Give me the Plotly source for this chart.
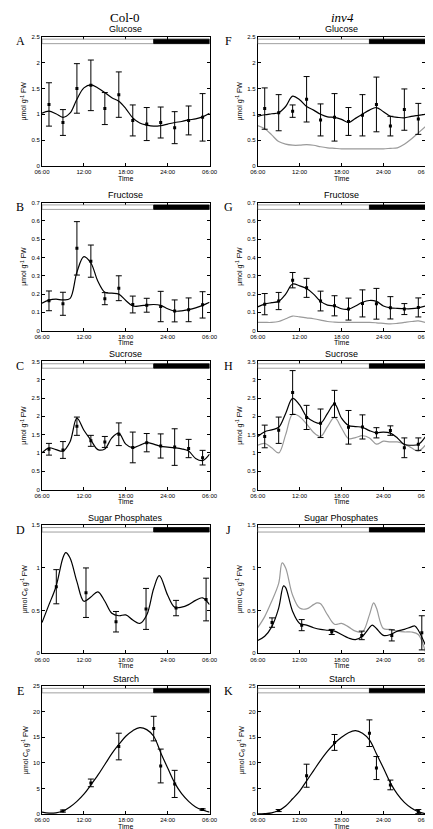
import plotly.graph_objects as go

# ---------------- data ----------------
hours = list(range(6, 31))
t_sugar = [7, 9, 11, 13, 15, 17, 19, 21, 23, 25, 27, 29]
t_phos = [8.05, 12.3, 16.6, 20.9, 25.2, 29.5]
t_starch = [9, 13, 17, 22, 23, 25, 29]

x_tickvals = [6, 12, 18, 24, 30]
x_ticktext = ["06:00", "12:00", "18:00", "24:00", "06:00"]

# Col-0
glc_col = [1.19, 0.84, 1.50, 1.56, 1.11, 1.38, 0.88, 0.81, 0.84, 0.74, 0.88, 0.94]
glc_col_err = [0.42, 0.25, 0.48, 0.49, 0.31, 0.44, 0.30, 0.32, 0.30, 0.31, 0.28, 0.46]
glc_col_fit = [1.02, 1.06, 1.01, 0.94, 1.02, 1.29, 1.51, 1.57, 1.51, 1.42, 1.32, 1.25, 1.11,
               0.93, 0.83, 0.79, 0.77, 0.78, 0.81, 0.84, 0.86, 0.89, 0.91, 0.95, 1.02]

fru_col = [0.163, 0.147, 0.45, 0.38, 0.175, 0.232, 0.143, 0.139, 0.132, 0.108, 0.114, 0.141]
fru_col_err = [0.054, 0.063, 0.146, 0.088, 0.033, 0.068, 0.046, 0.038, 0.083, 0.060, 0.065, 0.072]
fru_col_fit = [0.150, 0.167, 0.172, 0.168, 0.175, 0.32, 0.405, 0.37, 0.27, 0.21, 0.205, 0.200, 0.165,
               0.135, 0.135, 0.140, 0.143, 0.138, 0.120, 0.107, 0.108, 0.115, 0.125, 0.138, 0.155]

suc_col = [1.10, 1.08, 1.73, 1.33, 1.30, 1.51, 1.15, 1.28, 1.19, 1.16, 1.12, 0.87]
suc_col_err = [0.16, 0.23, 0.25, 0.15, 0.15, 0.31, 0.42, 0.25, 0.33, 0.50, 0.25, 0.20]
suc_col_fit = [1.00, 1.14, 1.09, 1.05, 1.30, 1.95, 1.62, 1.35, 1.09, 1.11, 1.41, 1.54, 1.24,
               1.14, 1.21, 1.28, 1.24, 1.18, 1.16, 1.14, 1.11, 1.05, 0.85, 0.79, 0.97]

sp_col = [0.78, 0.71, 0.37, 0.52, 0.53, 0.63]
sp_col_err = [0.20, 0.29, 0.12, 0.24, 0.09, 0.25]
sp_col_fit_t = [6, 7, 8, 9, 9.4, 10, 11, 12, 13, 14, 15, 16, 17, 18, 19, 20, 21, 22, 22.8,
                24, 25, 26, 27, 28, 29, 30]
sp_col_fit = [0.36, 0.57, 0.78, 1.12, 1.18, 1.12, 0.84, 0.61, 0.66, 0.72, 0.61, 0.47, 0.44,
              0.45, 0.39, 0.35, 0.45, 0.76, 0.91, 0.68, 0.54, 0.54, 0.57, 0.62, 0.65, 0.57]

st_col = [0.6, 6.1, 13.2, 16.7, 9.4, 5.9, 0.9]
st_col_err = [0.2, 0.75, 2.6, 2.4, 3.3, 2.65, 0.15]
st_col_fit = [0.4, 0.2, 0.26, 0.6, 1.4, 2.5, 3.9, 5.7, 7.6, 9.7, 11.8, 13.6, 15.2,
              16.3, 16.9, 16.5, 15.2, 12.0, 9.0, 6.1, 4.0, 2.5, 1.4, 0.8, 0.4]

# inv4
glc_inv = [1.11, 1.03, 1.06, 1.29, 0.89, 0.94, 0.86, 0.98, 1.19, 0.77, 1.09, 0.91]
glc_inv_err = [0.40, 0.35, 0.12, 0.44, 0.31, 0.46, 0.27, 0.40, 0.53, 0.19, 0.40, 0.30]
glc_inv_fit = [0.96, 0.99, 1.01, 1.03, 1.15, 1.35, 1.28, 1.15, 1.08, 1.00, 0.95, 0.94, 0.90,
               0.84, 0.92, 1.00, 1.08, 1.13, 1.05, 0.96, 0.94, 0.93, 0.96, 0.98, 1.00]
glc_ref_fit = [0.78, 0.72, 0.60, 0.47, 0.42, 0.40, 0.40, 0.41, 0.40, 0.37, 0.35, 0.34, 0.33,
               0.33, 0.33, 0.33, 0.33, 0.33, 0.33, 0.34, 0.35, 0.42, 0.52, 0.64, 0.76]

fru_inv = [0.145, 0.162, 0.276, 0.234, 0.162, 0.136, 0.118, 0.149, 0.147, 0.125, 0.118, 0.127]
fru_inv_err = [0.058, 0.047, 0.042, 0.052, 0.054, 0.055, 0.060, 0.074, 0.084, 0.061, 0.030, 0.052]
fru_inv_fit = [0.130, 0.145, 0.153, 0.160, 0.200, 0.255, 0.245, 0.230, 0.200, 0.160, 0.140, 0.135, 0.120,
               0.118, 0.135, 0.155, 0.165, 0.160, 0.135, 0.125, 0.122, 0.120, 0.120, 0.125, 0.135]
fru_ref_fit = [0.045, 0.045, 0.045, 0.050, 0.065, 0.080, 0.075, 0.070, 0.065, 0.058, 0.050, 0.047, 0.045,
               0.045, 0.045, 0.045, 0.045, 0.043, 0.040, 0.037, 0.040, 0.045, 0.050, 0.053, 0.045]

suc_inv = [1.45, 1.62, 2.65, 1.97, 1.81, 2.34, 1.70, 1.71, 1.55, 1.61, 1.14, 1.24]
suc_inv_err = [0.31, 0.36, 0.60, 0.33, 0.39, 0.37, 0.46, 0.33, 0.14, 0.13, 0.27, 0.17]
suc_inv_fit = [1.45, 1.58, 1.63, 1.70, 2.08, 2.49, 2.31, 1.99, 1.86, 1.81, 2.08, 2.34, 1.95,
               1.75, 1.72, 1.70, 1.61, 1.55, 1.57, 1.54, 1.41, 1.23, 1.21, 1.23, 1.44]
suc_ref_fit = [1.21, 1.26, 1.14, 1.00, 1.50, 2.06, 1.99, 1.79, 1.56, 1.45, 1.72, 1.97, 1.68,
               1.39, 1.42, 1.47, 1.41, 1.24, 1.32, 1.30, 1.30, 1.24, 1.14, 1.05, 1.21]

sp_inv = [0.36, 0.33, 0.25, 0.21, 0.21, 0.24]
sp_inv_err = [0.055, 0.065, 0.03, 0.05, 0.065, 0.20]
sp_inv_fit_t = [6, 7, 8, 9, 9.7, 10, 11, 12, 13, 14, 15, 16, 17, 18, 19, 20, 21, 22, 22.4,
                23, 24, 25, 26, 27, 28, 28.5, 29, 30]
sp_inv_fit = [0.15, 0.20, 0.31, 0.53, 0.79, 0.77, 0.49, 0.35, 0.33, 0.30, 0.28, 0.27, 0.26,
              0.22, 0.18, 0.16, 0.20, 0.30, 0.33, 0.29, 0.21, 0.22, 0.26, 0.28, 0.31, 0.32, 0.27, 0.10]
sp_ref_fit_t = [6, 7, 8, 9, 9.5, 10, 11, 12, 13, 14, 14.5, 15, 16, 17, 18, 19, 20, 21, 22,
                22.6, 23, 24, 25, 26, 27, 28, 29, 30]
sp_ref_fit = [0.30, 0.43, 0.61, 0.82, 1.06, 1.00, 0.68, 0.53, 0.52, 0.57, 0.59, 0.58, 0.45,
              0.34, 0.35, 0.31, 0.26, 0.25, 0.45, 0.59, 0.53, 0.29, 0.28, 0.26, 0.25, 0.25, 0.22, 0.02]

st_inv = [0.7, 7.5, 14.0, 15.8, 9.0, 5.7, 0.5]
st_inv_err = [0.2, 2.25, 1.55, 2.6, 2.25, 0.95, 0.4]
st_inv_fit = [0.05, 0.1, 0.25, 0.7, 1.6, 3.0, 4.5, 6.5, 8.5, 10.5, 12.3, 13.8, 15.0,
              15.9, 16.3, 15.8, 14.5, 11.8, 9.0, 6.1, 3.9, 2.3, 1.2, 0.5, 0.1]

titles = ["Glucose", "Fructose", "Sucrose", "Sugar Phosphates", "Starch"]
letters_left = ["A", "B", "C", "D", "E"]
letters_right = ["F", "G", "H", "J", "K"]
y_max = [2.5, 0.7, 3.5, 1.5, 25]
y_dtick = [0.5, 0.1, 0.5, 0.5, 5]
y_titles = ["µmol g<sup>-1</sup> FW", "µmol g<sup>-1</sup> FW", "µmol g<sup>-1</sup> FW",
            "µmol C<sub>6</sub> g<sup>-1</sup> FW", "µmol C<sub>6</sub> g<sup>-1</sup> FW"]
light_end = 22

# ---------------- layout geometry ----------------
W, H = 433, 829
rows_px = [(26, 156), (193, 322), (353, 482), (518, 647), (680, 809)]
cols_px = [(27, 201), (251, 425)]

panels = [
    (0, 0, t_sugar, glc_col, glc_col_err, [(hours, glc_col_fit, "black")]),
    (0, 1, t_sugar, glc_inv, glc_inv_err, [(hours, glc_ref_fit, "#9a9a9a"), (hours, glc_inv_fit, "black")]),
    (1, 0, t_sugar, fru_col, fru_col_err, [(hours, fru_col_fit, "black")]),
    (1, 1, t_sugar, fru_inv, fru_inv_err, [(hours, fru_ref_fit, "#9a9a9a"), (hours, fru_inv_fit, "black")]),
    (2, 0, t_sugar, suc_col, suc_col_err, [(hours, suc_col_fit, "black")]),
    (2, 1, t_sugar, suc_inv, suc_inv_err, [(hours, suc_ref_fit, "#9a9a9a"), (hours, suc_inv_fit, "black")]),
    (3, 0, t_phos, sp_col, sp_col_err, [(sp_col_fit_t, sp_col_fit, "black")]),
    (3, 1, t_phos, sp_inv, sp_inv_err, [(sp_ref_fit_t, sp_ref_fit, "#9a9a9a"), (sp_inv_fit_t, sp_inv_fit, "black")]),
    (4, 0, t_starch, st_col, st_col_err, [(hours, st_col_fit, "black")]),
    (4, 1, t_starch, st_inv, st_inv_err, [(hours, st_inv_fit, "black")]),
]

fig = go.Figure()
layout = {}
shapes = []
annotations = []
sans = "Liberation Sans, Arial"
serif = "Liberation Serif, Times New Roman"
tick_font = dict(size=6, family=sans, color="black")

for i, (r, c, tp, mean, err, fits) in enumerate(panels):
    n = i + 1
    xa = "x" if n == 1 else f"x{n}"
    ya = "y" if n == 1 else f"y{n}"
    top, bot = rows_px[r]
    left, right = cols_px[c]
    layout["xaxis" if n == 1 else f"xaxis{n}"] = dict(
        domain=[left / W, right / W], anchor=ya, range=[6, 30],
        tickvals=x_tickvals, ticktext=x_ticktext,
        showline=True, linecolor="black", linewidth=1, mirror="ticks",
        ticks="inside", ticklen=3, tickcolor="black", showgrid=False, zeroline=False,
        tickfont=tick_font,
    )
    layout["yaxis" if n == 1 else f"yaxis{n}"] = dict(
        domain=[1 - bot / H, 1 - top / H], anchor=xa, range=[0, y_max[r]], dtick=y_dtick[r],
        showline=True, linecolor="black", linewidth=1, mirror="ticks",
        ticks="inside", ticklen=3, tickcolor="black", showgrid=False, zeroline=False,
        tickfont=tick_font,
        title=dict(text=y_titles[r], font=dict(size=7, family=sans, color="black"), standoff=3),
    )
    for tf, fv, col in fits:
        fig.add_trace(go.Scatter(x=tf, y=fv, mode="lines",
                                 line=dict(color=col, width=1.2, shape="spline", smoothing=1.0),
                                 xaxis=xa, yaxis=ya, showlegend=False, hoverinfo="skip"))
    fig.add_trace(go.Scatter(x=tp, y=mean, mode="markers",
                             marker=dict(symbol="square", size=3, color="black"),
                             error_y=dict(type="data", array=err, color="black", thickness=1, width=3),
                             xaxis=xa, yaxis=ya, showlegend=False))
    # light / dark bar
    shapes.append(dict(type="rect", xref=xa, yref=f"{ya} domain", x0=6, x1=light_end, y0=0.947, y1=0.982,
                       fillcolor="white", line=dict(color="#888888", width=0.8)))
    shapes.append(dict(type="rect", xref=xa, yref=f"{ya} domain", x0=light_end, x1=30, y0=0.947, y1=0.982,
                       fillcolor="black", line=dict(color="black", width=0.8)))
    # panel title
    annotations.append(dict(text=titles[r], xref="paper", yref="paper", x=(left + right) / 2 / W,
                            y=1 - (top - 7.5) / H, xanchor="center", yanchor="middle", showarrow=False,
                            font=dict(size=9, family=sans, color="black")))
    # x-axis title
    annotations.append(dict(text="Time", xref="paper", yref="paper", x=(left + right) / 2 / W,
                            y=1 - (bot + 12.3) / H, xanchor="center", yanchor="middle", showarrow=False,
                            borderpad=0, font=dict(size=7, family=sans, color="black")))
    # letter
    lx = 4.5 if c == 0 else 221
    annotations.append(dict(text=(letters_left if c == 0 else letters_right)[r], xref="paper", yref="paper",
                            x=lx / W, y=1 - (top + 4.5) / H, xanchor="center", yanchor="middle", showarrow=False,
                            font=dict(size=12, family=serif, color="black")))

annotations.append(dict(text="Col-0", xref="paper", yref="paper", x=113 / W, y=1 - 7 / H, xanchor="center",
                        yanchor="middle", showarrow=False, font=dict(size=13, family=serif, color="black")))
annotations.append(dict(text="<i>inv4</i>", xref="paper", yref="paper", x=339 / W, y=1 - 7 / H, xanchor="center",
                        yanchor="middle", showarrow=False, font=dict(size=13, family=serif, color="black")))

fig.update_layout(**layout)
fig.update_layout(width=W, height=H, margin=dict(l=0, r=0, t=0, b=0), paper_bgcolor="white",
                  plot_bgcolor="white", shapes=shapes, annotations=annotations, showlegend=False)
fig.write_html("out.html")
